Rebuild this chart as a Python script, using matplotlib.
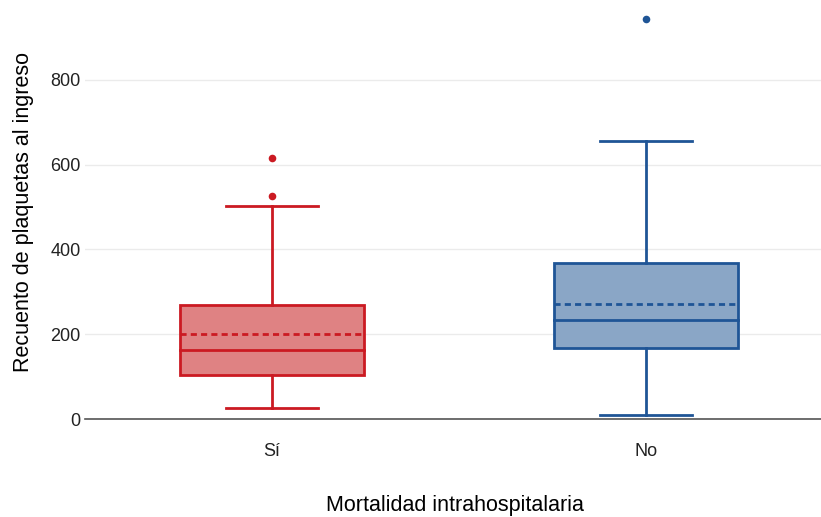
import matplotlib
matplotlib.use("Agg")
import matplotlib.pyplot as plt
from matplotlib.patches import Rectangle

plt.rcParams['font.family'] = ['Liberation Sans', 'DejaVu Sans']

categories = ["Sí", "No"]
q1 = [104, 167]
median = [163, 234]
q3 = [270, 367]
mean = [200, 272]
whisker_low = [26, 9]
whisker_high = [503, 657]
outliers = [[526, 617], [945]]
edge_colors = ["#CB1A22", "#1F5596"]
fill_colors = ["#DF8283", "#8AA6C6"]

W, H = 821, 517
fig = plt.figure(figsize=(W / 100, H / 100), dpi=100)
left, right, top, bottom = 85, 821, 5, 419
ax = fig.add_axes([left / W, 1 - bottom / H, (right - left) / W, (bottom - top) / H])

box_w = 0.49
cap_w = 0.245
for i, cat in enumerate(categories):
    ec, fc = edge_colors[i], fill_colors[i]
    ax.add_patch(Rectangle((i - box_w / 2, q1[i]), box_w, q3[i] - q1[i],
                           facecolor=fc, edgecolor=ec, linewidth=2, zorder=3))
    ax.plot([i - box_w / 2, i + box_w / 2], [median[i]] * 2, color=ec, lw=2, zorder=4)
    ax.plot([i - box_w / 2, i + box_w / 2], [mean[i]] * 2, color=ec, lw=2,
            ls=(0, (2.2, 1.5)), zorder=4)
    ax.plot([i, i], [q3[i], whisker_high[i]], color=ec, lw=2, zorder=3)
    ax.plot([i, i], [q1[i], whisker_low[i]], color=ec, lw=2, zorder=3)
    ax.plot([i - cap_w / 2, i + cap_w / 2], [whisker_high[i]] * 2, color=ec, lw=2, zorder=3)
    ax.plot([i - cap_w / 2, i + cap_w / 2], [whisker_low[i]] * 2, color=ec, lw=2, zorder=3)
    ax.scatter([i] * len(outliers[i]), outliers[i], s=30, color=ec, zorder=5, linewidths=0)

ax.set_xlim(-0.5, -0.5 + (right - left) / 374)
ax.set_ylim(0, (bottom - top) / 0.42375)
ax.set_xticks(range(len(categories)))
ax.set_xticklabels(categories)
ax.set_yticks([0, 200, 400, 600, 800])
ax.tick_params(axis='y', length=0, pad=3, labelsize=13, colors="#222222")
ax.tick_params(axis='x', length=0, pad=17.5, labelsize=13, colors="#222222")
ax.grid(axis='y', color="#EBEBEB", lw=1, zorder=0)
for s in ["top", "right", "left"]:
    ax.spines[s].set_visible(False)
ax.spines["bottom"].set_color("#555555")
ax.spines["bottom"].set_linewidth(1.2)

ax.set_xlabel("Mortalidad intrahospitalaria", fontsize=15.5, va="center")
ax.xaxis.set_label_coords((455 - left) / (right - left), -(505 - bottom) / (bottom - top))
ax.set_ylabel("Recuento de plaquetas al ingreso", fontsize=15.5, labelpad=12)

fig.savefig("out.png", dpi=100)
